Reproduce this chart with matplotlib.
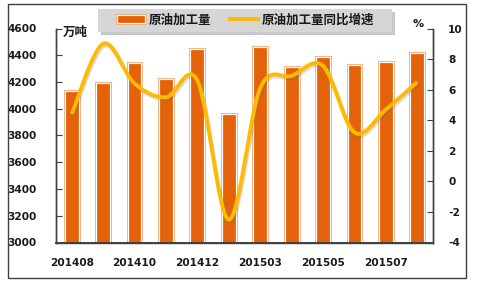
import matplotlib
matplotlib.use("Agg")
import matplotlib.pyplot as plt
import matplotlib.patheffects as pe
from matplotlib.patches import Patch, Rectangle
from matplotlib.lines import Line2D
import numpy as np

plt.rcParams["font.family"] = ["DejaVu Sans", "Noto Sans CJK SC"]
plt.rcParams["axes.unicode_minus"] = False

months = ["201408", "201409", "201410", "201411", "201412", "201502",
          "201503", "201504", "201505", "201506", "201507", "201508"]
output_wt = [4130, 4190, 4340, 4220, 4450, 3960,
             4460, 4310, 4385, 4330, 4350, 4420]
growth_pct = [4.4, 9.0, 6.4, 5.5, 6.6, -2.5,
              6.1, 6.9, 7.55, 3.2, 4.7, 6.5]

BAR = "#E3620A"
BAR_EDGE = "#F4A470"
LINE = "#FFBA00"
TXT = "#1a1a1a"
CJK = ["Noto Sans CJK SC", "DejaVu Sans"]


def smooth(xs, ys, n=30):
    # Excel-style smoothed line: cubic Bezier with Catmull-Rom control points
    xs = np.asarray(xs, float)
    ys = np.asarray(ys, float)
    px = np.concatenate([[xs[0]], xs, [xs[-1]]])
    py = np.concatenate([[ys[0]], ys, [ys[-1]]])
    ox, oy = [], []
    t = np.linspace(0, 1, n)
    for i in range(1, len(px) - 2):
        p0 = np.array([px[i], py[i]])
        p3 = np.array([px[i + 1], py[i + 1]])
        c1 = p0 + (np.array([px[i + 1], py[i + 1]]) - np.array([px[i - 1], py[i - 1]])) / 6
        c2 = p3 - (np.array([px[i + 2], py[i + 2]]) - np.array([px[i], py[i]])) / 6
        b = ((1 - t) ** 3)[:, None] * p0 + (3 * (1 - t) ** 2 * t)[:, None] * c1 \
            + (3 * (1 - t) * t ** 2)[:, None] * c2 + (t ** 3)[:, None] * p3
        ox.extend(b[:, 0])
        oy.extend(b[:, 1])
    return np.array(ox), np.array(oy)


W, H = 485, 282
fig = plt.figure(figsize=(W / 100, H / 100), dpi=100)
ax = fig.add_axes([56 / W, 1 - 242.5 / H, (433 - 56) / W, (242.5 - 28.5) / H])
ax2 = ax.twinx()

x = np.arange(len(months))
bar_fx = [pe.Stroke(linewidth=2.0, foreground=BAR_EDGE), pe.Normal()]
ax.bar(x, np.array(output_wt) - 3000, bottom=3000, width=0.44, color=BAR,
       edgecolor="white", linewidth=0.86, path_effects=bar_fx, zorder=2)

ax.set_xlim(-0.5, len(months) - 0.5)
ax.set_ylim(3000, 4600)
ax.set_yticks(range(3000, 4601, 200))
ax.set_xticks(x[::2])
ax.set_xticklabels(months[::2])

ax2.set_ylim(-4, 10)
ax2.set_yticks(range(-4, 11, 2))
sx, sy = smooth(x, growth_pct)
ax2.plot(sx, sy, color=LINE, linewidth=2.8, solid_capstyle="butt",
         path_effects=[pe.SimpleLineShadow(offset=(0.8, -1.5), shadow_color="#6a7080", alpha=0.25),
                       pe.Normal()], zorder=3)

for a in (ax, ax2):
    a.spines["top"].set_visible(False)
    for s in ("left", "right", "bottom"):
        a.spines[s].set_color("#404040")
        a.spines[s].set_linewidth(1.0)
    a.tick_params(axis="y", direction="in", length=4, width=0.8, color="#404040",
                  labelsize=7.6, labelcolor=TXT)
    for lab in a.get_yticklabels():
        lab.set_fontweight("bold")
ax.spines["bottom"].set_linewidth(1.4)
ax.tick_params(axis="x", length=0, labelsize=7.6, labelcolor=TXT, pad=11)
for lab in ax.get_xticklabels():
    lab.set_fontweight("bold")
ax.tick_params(axis="y", pad=14)
ax2.tick_params(axis="y", pad=11)
ax2.set_zorder(ax.get_zorder() + 1)
ax.patch.set_visible(False)

fig.text(63 / W, 1 - 32 / H, "万吨", family=CJK, fontsize=9, fontweight="bold",
         color=TXT, va="center", ha="left")
fig.text(418 / W, 1 - 24 / H, "%", fontsize=8, fontweight="bold",
         color=TXT, va="center", ha="center")

# legend box with soft shadow
lx0, ly0, lw, lh = 98, 8.5, 294, 23
fig.patches.append(Rectangle(((lx0 + 3) / W, 1 - (ly0 + lh + 3) / H), lw / W, lh / H,
                             transform=fig.transFigure, facecolor="#9c9c9c", alpha=0.55,
                             edgecolor="none", zorder=4))
fig.patches.append(Rectangle((lx0 / W, 1 - (ly0 + lh) / H), lw / W, lh / H,
                             transform=fig.transFigure, facecolor="#D6D6D6",
                             edgecolor="none", zorder=5))

handles = [Patch(facecolor=BAR, edgecolor="white", linewidth=0.86, path_effects=bar_fx),
           Line2D([], [], color=LINE, linewidth=2.8)]
leg = fig.legend(handles, ["原油加工量", "原油加工量同比增速"], ncol=2,
                 loc="center", bbox_to_anchor=(246 / W, 1 - 20 / H),
                 frameon=False, handlelength=2.2, handleheight=0.6,
                 columnspacing=1.5, handletextpad=0.35, borderpad=0.3,
                 prop={"family": CJK, "size": 9, "weight": "bold"})
leg.set_zorder(6)
for t in leg.get_texts():
    t.set_color(TXT)

fig.patches.append(Rectangle((8 / W, 4 / H), 458 / W, 274 / H, transform=fig.transFigure,
                             fill=False, edgecolor="#404040", linewidth=1.0))

fig.savefig("out.png", dpi=100)
